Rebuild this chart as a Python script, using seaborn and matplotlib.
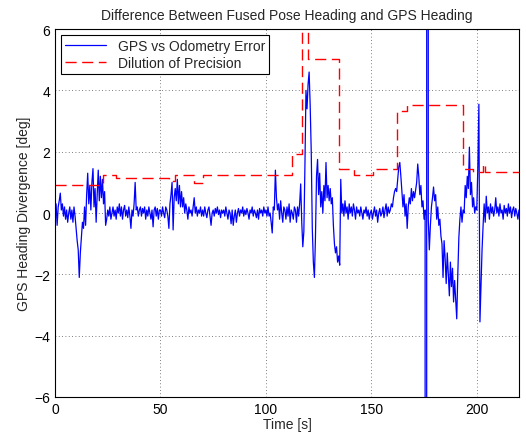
import numpy as np
import pandas as pd
import seaborn as sns
import matplotlib.pyplot as plt

err_000 = [0.1, 0.3, -0.4, 0.2, 0.4, 0.65, 0.1, 0.3, -0.1, 0.2,
           -0.2, 0.1, -0.3, 0.0, 0.2, -0.2, 0.1, -0.3, 0.2, -0.1]
err_010 = [-0.5, -0.9, -1.2, -2.1, -1.3, -0.8, -0.3, -0.5, 0.2, -0.4,
           0.6, 1.3, 0.3, 0.9, 0.1, 1.0, 1.45, 0.2, 0.8, -0.3]
err_020 = [0.6, 1.4, 0.4, 1.2, 0.5, 1.1, 0.3, 0.7, -0.4, -0.2,
           0.1, -0.1, 0.2, -0.2, 0.0, 0.2, -0.1, 0.1, -0.2, 0.2]
err_030 = [0.0, 0.3, -0.1, 0.2, -0.2, 0.1, 0.25, -0.1, 0.1, -0.15,
           0.2, -0.1, -0.5, 0.1, -0.1, 0.3, 1.0, 0.1, 0.2, -0.1]
err_040 = [0.1, 0.2, -0.1, 0.15, 0.0, 0.2, -0.2, 0.1, -0.1, 0.2,
           0.0, -0.2, 0.1, -0.45, 0.1, 0.2, -0.1, 0.15, -0.2, 0.1]
err_050 = [0.1, -0.1, 0.2, 0.0, -0.15, 0.2, 0.1, -0.1, -0.5, 0.3,
           0.6, 1.0, -0.55, 0.5, 0.8, 0.4, 1.1, 0.3, 0.9, 0.2]
err_060 = [0.7, 0.2, 0.5, 0.0, 0.3, 0.1, -0.2, 0.2, 0.0, 0.1,
           -0.1, 0.2, 0.5, 0.0, 0.2, -0.1, 0.1, 0.0, 0.2, -0.1]
err_070 = [0.1, -0.1, 0.2, 0.0, -0.15, 0.1, 0.2, -0.1, -0.4, 0.0,
           0.1, -0.1, 0.15, 0.0, 0.2, -0.05, 0.1, -0.15, 0.1, 0.0]
err_080 = [0.1, -0.1, 0.2, 0.0, -0.2, 0.1, 0.0, -0.35, 0.1, -0.4,
           -0.1, 0.1, -0.3, 0.0, 0.15, -0.1, 0.1, 0.0, 0.2, -0.1]
err_090 = [0.1, -0.05, 0.15, 0.0, -0.2, 0.1, 0.0, 0.2, -0.1, 0.1,
           0.0, -0.15, 0.1, -0.2, 0.15, 0.0, 0.1, -0.1, 0.2, 0.0]
err_100 = [0.1, -0.1, 0.2, -0.1, 0.0, -0.3, -0.65, 0.2, 0.1, 1.4,
           0.5, 0.1, 0.3, -0.2, 0.4, 0.0, -0.3, 0.2, 0.1, -0.2]
err_110 = [0.2, -0.1, 0.3, -0.3, 0.1, 0.0, -0.2, 0.2, 0.1, -0.3,
           0.2, -0.1, 0.3, 0.95, -0.3, -1.1, -0.6, 1.5, 4.0, 3.4]
err_120 = [4.2, 4.6, 3.5, 2.0, -0.5, -1.6, -2.1, -0.8, 1.2, 1.75,
           0.6, 1.3, 0.2, 0.7, 0.0, 0.9, 0.4, 1.65, 0.5, 0.9]
err_130 = [0.4, 0.8, 0.3, 0.5, -0.4, -1.0, -1.3, -1.1, -1.6, -1.4,
           -1.7, 1.1, 0.0, 0.3, -0.1, 0.4, 0.0, 0.2, -0.2, 0.3]
err_140 = [0.0, 0.2, -0.1, 0.3, 0.1, -0.2, 0.2, 0.0, 0.1, -0.1,
           0.2, 0.0, -0.2, 0.1, 0.0, 0.2, -0.1, 0.1, -0.2, 0.0]
err_150 = [0.1, -0.2, 0.0, 0.2, -0.1, 0.1, -0.3, 0.0, 0.15, -0.1,
           0.0, 0.2, -0.15, 0.1, 0.3, -0.1, 0.2, 0.0, 0.1, 0.3]
err_160 = [0.2, 0.5, 0.7, 0.8, 0.7, 1.1, 1.5, 1.65, 1.2, 0.7,
           0.2, 0.6, -0.1, 0.3, -0.5, 0.2, 0.5, 0.3, 0.8, 0.4]
err_170 = [0.7, 0.5, 0.75, 1.0, 1.6, 1.2, 0.6, 0.9, 0.2, 0.4,
           -0.2, 0.1, -1000.0, 1000.0, -0.2, -1.2, -0.4, 0.2, 0.5, 0.85]
err_180 = [0.4, 0.6, -0.2, 0.2, -0.4, -0.2, -0.75, -1.0, -2.1, -0.9,
           -1.5, -2.3, -1.3, -2.0, -2.7, -1.6, -2.4, -1.8, -2.9, -2.2]
err_190 = [-2.8, -3.45, -2.0, -0.8, -0.2, 0.2, -0.3, 0.1, 0.0, 0.9,
           0.5, 1.2, 0.8, 2.15, 0.6, 1.0, 0.2, 0.5, 0.0, 0.2]
err_200 = [0.1, 1.5, 3.55, -3.55, -2.4, -1.2, -0.4, 0.3, -0.3, 0.55,
           0.0, 0.2, -0.2, 0.3, 0.0, 0.2, -0.1, 0.1, 0.5, 0.0]
err_210 = [0.2, -0.1, 0.3, 0.0, 0.1, -0.2, 0.25, 0.0, 0.15, -0.1,
           0.3, 0.0, 0.2, -0.15, 0.1, 0.2, -0.1, 0.15, 0.0, -0.2, 0.1]

segments = [err_000, err_010, err_020, err_030, err_040, err_050, err_060,
            err_070, err_080, err_090, err_100, err_110, err_120, err_130,
            err_140, err_150, err_160, err_170, err_180, err_190, err_200,
            err_210]

# dilution of precision, step changes
dop_time = [0, 22.7, 29, 54, 57, 66, 70, 112.5, 117, 120, 134.8, 142,
            151, 162, 167, 193.4, 198.4, 202.8, 204.1, 220]
dop_value = [0.92, 1.24, 1.13, 1.03, 1.24, 0.98, 1.24, 1.92, 7.0, 5.02,
             1.43, 1.24, 1.43, 3.33, 3.52, 1.43, 1.35, 1.6, 1.33, 1.33]

t_err, v_err = [], []
for i, seg in enumerate(segments):
    t_err += list(10 * i + 0.5 * np.arange(len(seg)))
    v_err += seg
err_df = pd.DataFrame({"t": t_err, "v": v_err})
dop_df = pd.DataFrame({"t": dop_time, "v": dop_value})

sns.set_style("white")
plt.rcParams["font.family"] = ["Liberation Sans", "DejaVu Sans"]

fig = plt.figure(figsize=(5.26, 4.39), dpi=100)
ax = fig.add_axes([0.1046, 0.0934, 0.882, 0.838])

sns.lineplot(data=err_df, x="t", y="v", color="#0000ff", lw=0.9,
             estimator=None, label="GPS vs Odometry Error", ax=ax)
sns.lineplot(data=dop_df, x="t", y="v", color="#ff0000", lw=1.0,
             estimator=None, drawstyle="steps-post",
             linestyle=(0, (8, 4)), label="Dilution of Precision", ax=ax)

ax.set_xlim(0, 220)
ax.set_ylim(-6, 6)
ax.set_xticks([0, 50, 100, 150, 200])
ax.set_yticks([-6, -4, -2, 0, 2, 4, 6])
ax.tick_params(direction="in", length=4, labelsize=10, colors="black")
ax.grid(True, linestyle=(0, (1, 3)), color="#555555", lw=0.6)
for s in ax.spines.values():
    s.set_color("black")
    s.set_linewidth(0.8)

ax.set_title("Difference Between Fused Pose Heading and GPS Heading",
             fontsize=10, pad=7)
ax.set_xlabel("Time [s]", fontsize=10, labelpad=1)
ax.set_ylabel("GPS Heading Divergence [deg]", fontsize=10, labelpad=2)

leg = ax.legend(loc="upper left", fontsize=10, fancybox=False,
                edgecolor="black", framealpha=1, handlelength=3.0,
                borderaxespad=0.4, borderpad=0.3, labelspacing=0.2)
leg.get_frame().set_linewidth(0.8)

plt.savefig("out.png", dpi=100)
